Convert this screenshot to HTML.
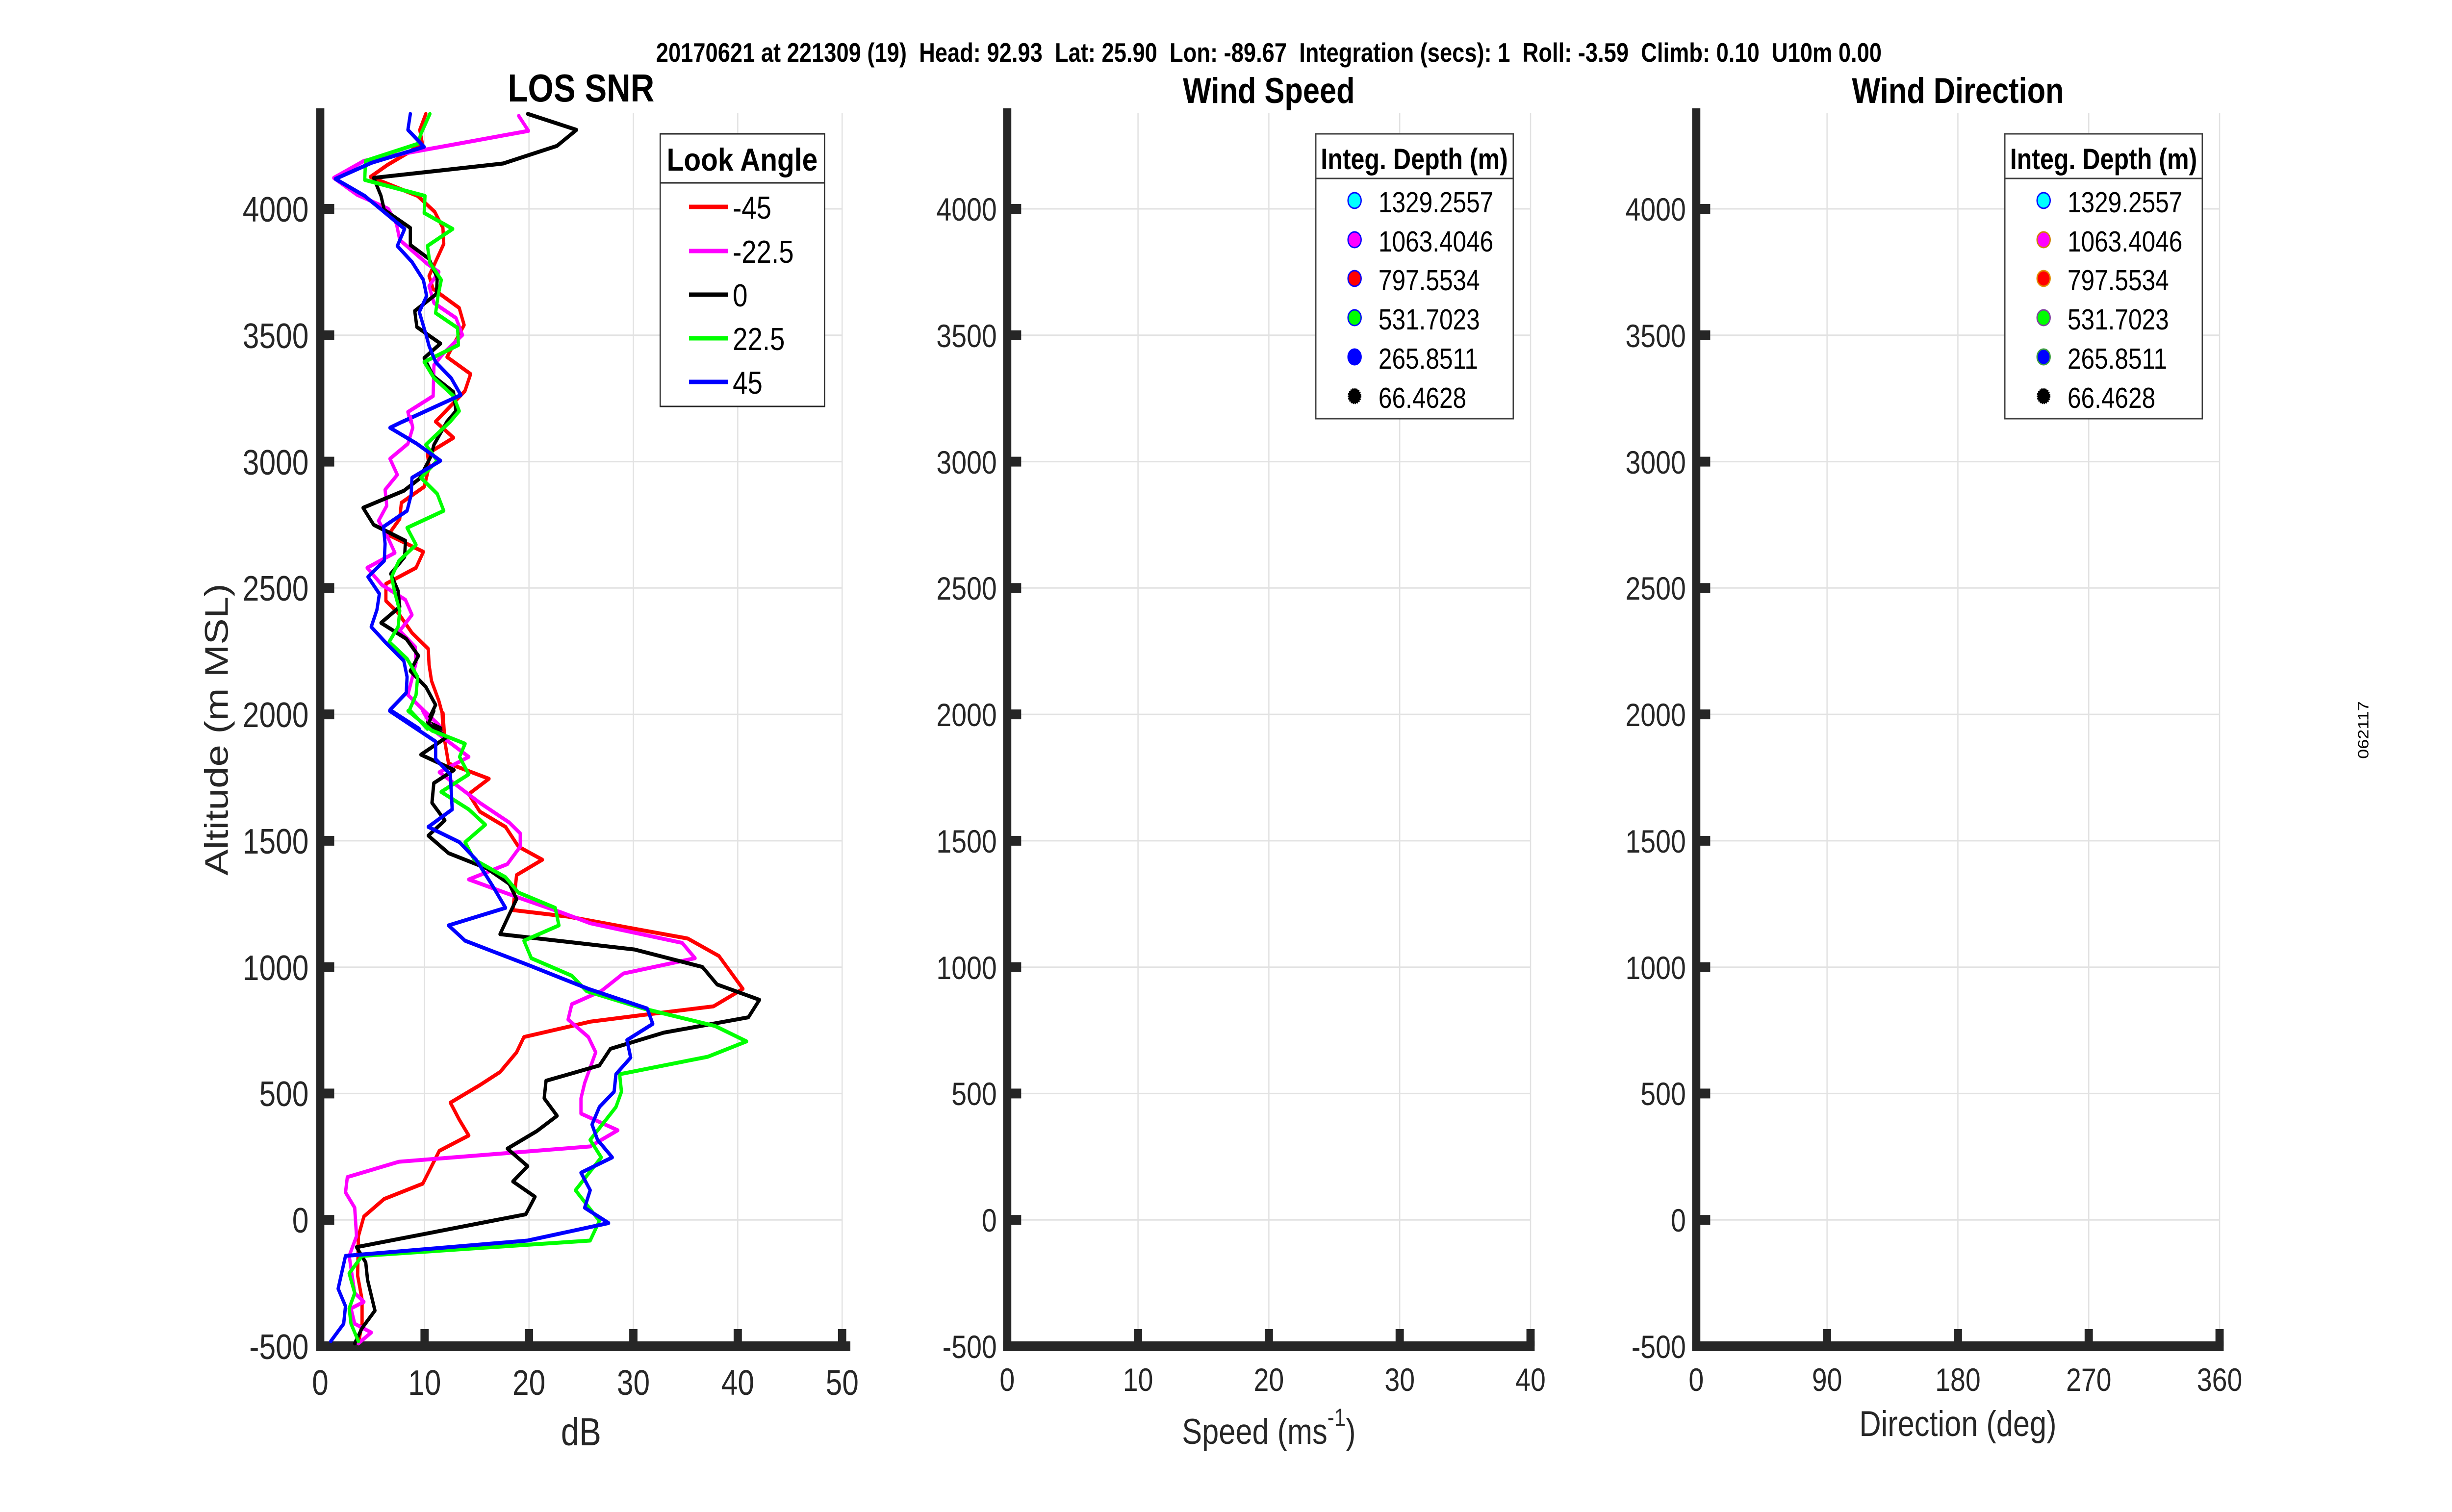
<!DOCTYPE html>
<html><head><meta charset="utf-8"><style>
html,body{margin:0;padding:0;background:#fff;width:100%;height:100%;overflow:hidden;}
svg{display:block;width:100vw;height:100vh;}
text{font-family:"Liberation Sans",Arial,sans-serif;}
</style></head><body>
<svg viewBox="0 0 5950 3084" preserveAspectRatio="none" xmlns="http://www.w3.org/2000/svg">
<rect width="5950" height="3084" fill="#fff"/>

<!-- main title -->
<text x="3079" y="126" font-size="55" font-weight="bold" text-anchor="middle" textLength="2974" lengthAdjust="spacingAndGlyphs" fill="#000" style="white-space:pre" xml:space="preserve">20170621 at 221309 (19)  Head: 92.93  Lat: 25.90  Lon: -89.67  Integration (secs): 1  Roll: -3.59  Climb: 0.10  U10m 0.00</text>

<!-- subplot titles -->
<text x="1410" y="207" font-size="80" font-weight="bold" text-anchor="middle" fill="#000">LOS SNR</text>
<text x="3079" y="210" font-size="73" font-weight="bold" text-anchor="middle" fill="#000">Wind Speed</text>
<text x="4751" y="210" font-size="73" font-weight="bold" text-anchor="middle" fill="#000">Wind Direction</text>

<!-- grids -->
<g stroke="#e2e2e2" stroke-width="3">
  <line x1="777" y1="2488.2" x2="2043.5" y2="2488.2"/>
  <line x1="777" y1="2230.4" x2="2043.5" y2="2230.4"/>
  <line x1="777" y1="1972.7" x2="2043.5" y2="1972.7"/>
  <line x1="777" y1="1714.9" x2="2043.5" y2="1714.9"/>
  <line x1="777" y1="1457.1" x2="2043.5" y2="1457.1"/>
  <line x1="777" y1="1199.3" x2="2043.5" y2="1199.3"/>
  <line x1="777" y1="941.6" x2="2043.5" y2="941.6"/>
  <line x1="777" y1="683.8" x2="2043.5" y2="683.8"/>
  <line x1="777" y1="426" x2="2043.5" y2="426"/>
  <line x1="1030.3" y1="231" x2="1030.3" y2="2746"/>
  <line x1="1283.6" y1="231" x2="1283.6" y2="2746"/>
  <line x1="1536.9" y1="231" x2="1536.9" y2="2746"/>
  <line x1="1790.2" y1="231" x2="1790.2" y2="2746"/>
  <line x1="2043.5" y1="231" x2="2043.5" y2="2746"/>
  <line x1="2444" y1="2488.2" x2="3714" y2="2488.2"/>
  <line x1="2444" y1="2230.4" x2="3714" y2="2230.4"/>
  <line x1="2444" y1="1972.7" x2="3714" y2="1972.7"/>
  <line x1="2444" y1="1714.9" x2="3714" y2="1714.9"/>
  <line x1="2444" y1="1457.1" x2="3714" y2="1457.1"/>
  <line x1="2444" y1="1199.3" x2="3714" y2="1199.3"/>
  <line x1="2444" y1="941.6" x2="3714" y2="941.6"/>
  <line x1="2444" y1="683.8" x2="3714" y2="683.8"/>
  <line x1="2444" y1="426" x2="3714" y2="426"/>
  <line x1="2761.5" y1="231" x2="2761.5" y2="2746"/>
  <line x1="3079" y1="231" x2="3079" y2="2746"/>
  <line x1="3396.5" y1="231" x2="3396.5" y2="2746"/>
  <line x1="3714" y1="231" x2="3714" y2="2746"/>
  <line x1="4116" y1="2488.2" x2="5386" y2="2488.2"/>
  <line x1="4116" y1="2230.4" x2="5386" y2="2230.4"/>
  <line x1="4116" y1="1972.7" x2="5386" y2="1972.7"/>
  <line x1="4116" y1="1714.9" x2="5386" y2="1714.9"/>
  <line x1="4116" y1="1457.1" x2="5386" y2="1457.1"/>
  <line x1="4116" y1="1199.3" x2="5386" y2="1199.3"/>
  <line x1="4116" y1="941.6" x2="5386" y2="941.6"/>
  <line x1="4116" y1="683.8" x2="5386" y2="683.8"/>
  <line x1="4116" y1="426" x2="5386" y2="426"/>
  <line x1="4433.5" y1="231" x2="4433.5" y2="2746"/>
  <line x1="4751" y1="231" x2="4751" y2="2746"/>
  <line x1="5068.5" y1="231" x2="5068.5" y2="2746"/>
  <line x1="5386" y1="231" x2="5386" y2="2746"/>
</g>

<!-- axes lines and ticks -->
<g fill="#262626">
  <rect x="767" y="221" width="20" height="2535"/>
  <rect x="767" y="2736" width="1296.5" height="20"/>
  <rect x="777" y="2478.2" width="34" height="20"/>
  <rect x="777" y="2220.4" width="34" height="20"/>
  <rect x="777" y="1962.7" width="34" height="20"/>
  <rect x="777" y="1704.9" width="34" height="20"/>
  <rect x="777" y="1447.1" width="34" height="20"/>
  <rect x="777" y="1189.3" width="34" height="20"/>
  <rect x="777" y="931.6" width="34" height="20"/>
  <rect x="777" y="673.8" width="34" height="20"/>
  <rect x="777" y="416" width="34" height="20"/>
  <rect x="1020.3" y="2711" width="20" height="35"/>
  <rect x="1273.6" y="2711" width="20" height="35"/>
  <rect x="1526.9" y="2711" width="20" height="35"/>
  <rect x="1780.2" y="2711" width="20" height="35"/>
  <rect x="2033.5" y="2711" width="20" height="35"/>
  <rect x="2434" y="221" width="20" height="2535"/>
  <rect x="2434" y="2736" width="1290" height="20"/>
  <rect x="2444" y="2478.2" width="34" height="20"/>
  <rect x="2444" y="2220.4" width="34" height="20"/>
  <rect x="2444" y="1962.7" width="34" height="20"/>
  <rect x="2444" y="1704.9" width="34" height="20"/>
  <rect x="2444" y="1447.1" width="34" height="20"/>
  <rect x="2444" y="1189.3" width="34" height="20"/>
  <rect x="2444" y="931.6" width="34" height="20"/>
  <rect x="2444" y="673.8" width="34" height="20"/>
  <rect x="2444" y="416" width="34" height="20"/>
  <rect x="2751.5" y="2711" width="20" height="35"/>
  <rect x="3069" y="2711" width="20" height="35"/>
  <rect x="3386.5" y="2711" width="20" height="35"/>
  <rect x="3704" y="2711" width="20" height="35"/>
  <rect x="4106" y="221" width="20" height="2535"/>
  <rect x="4106" y="2736" width="1290" height="20"/>
  <rect x="4116" y="2478.2" width="34" height="20"/>
  <rect x="4116" y="2220.4" width="34" height="20"/>
  <rect x="4116" y="1962.7" width="34" height="20"/>
  <rect x="4116" y="1704.9" width="34" height="20"/>
  <rect x="4116" y="1447.1" width="34" height="20"/>
  <rect x="4116" y="1189.3" width="34" height="20"/>
  <rect x="4116" y="931.6" width="34" height="20"/>
  <rect x="4116" y="673.8" width="34" height="20"/>
  <rect x="4116" y="416" width="34" height="20"/>
  <rect x="4423.5" y="2711" width="20" height="35"/>
  <rect x="4741" y="2711" width="20" height="35"/>
  <rect x="5058.5" y="2711" width="20" height="35"/>
  <rect x="5376" y="2711" width="20" height="35"/>
</g>

<!-- tick labels -->
<g fill="#262626" font-size="72" text-anchor="end">
  <text x="749" y="2772">-500</text>
  <text x="749" y="2514">0</text>
  <text x="749" y="2256">500</text>
  <text x="749" y="1999">1000</text>
  <text x="749" y="1741">1500</text>
  <text x="749" y="1483">2000</text>
  <text x="749" y="1225">2500</text>
  <text x="749" y="968">3000</text>
  <text x="749" y="710">3500</text>
  <text x="749" y="452">4000</text>
</g>
<g fill="#262626" font-size="72" text-anchor="middle">
  <text x="777" y="2845">0</text>
  <text x="1030.3" y="2845">10</text>
  <text x="1283.6" y="2845">20</text>
  <text x="1536.9" y="2845">30</text>
  <text x="1790.2" y="2845">40</text>
  <text x="2043.5" y="2845">50</text>
</g>
<g fill="#262626" font-size="66" text-anchor="end">
  <text x="2419" y="2770">-500</text>
  <text x="2419" y="2512">0</text>
  <text x="2419" y="2254">500</text>
  <text x="2419" y="1997">1000</text>
  <text x="2419" y="1739">1500</text>
  <text x="2419" y="1481">2000</text>
  <text x="2419" y="1223">2500</text>
  <text x="2419" y="966">3000</text>
  <text x="2419" y="708">3500</text>
  <text x="2419" y="450">4000</text>
  <text x="4091" y="2770">-500</text>
  <text x="4091" y="2512">0</text>
  <text x="4091" y="2254">500</text>
  <text x="4091" y="1997">1000</text>
  <text x="4091" y="1739">1500</text>
  <text x="4091" y="1481">2000</text>
  <text x="4091" y="1223">2500</text>
  <text x="4091" y="966">3000</text>
  <text x="4091" y="708">3500</text>
  <text x="4091" y="450">4000</text>
</g>
<g fill="#262626" font-size="66" text-anchor="middle">
  <text x="2444" y="2837">0</text>
  <text x="2761.5" y="2837">10</text>
  <text x="3079" y="2837">20</text>
  <text x="3396.5" y="2837">30</text>
  <text x="3714" y="2837">40</text>
  <text x="4116" y="2837">0</text>
  <text x="4433.5" y="2837">90</text>
  <text x="4751" y="2837">180</text>
  <text x="5068.5" y="2837">270</text>
  <text x="5386" y="2837">360</text>
</g>

<!-- axis labels -->
<text x="1410" y="2948" font-size="80" text-anchor="middle" fill="#262626">dB</text>
<text x="3079" y="2945" font-size="73" text-anchor="middle" fill="#262626">Speed (ms<tspan font-size="50" dy="-37">-1</tspan><tspan dy="37">)</tspan></text>
<text x="4751" y="2929" font-size="73" text-anchor="middle" fill="#262626">Direction (deg)</text>
<text transform="translate(553,1488) rotate(-90)" x="0" y="0" font-size="80" text-anchor="middle" fill="#262626">Altitude (m MSL)</text>

<text transform="translate(5747,1489) rotate(-90)" x="0" y="0" font-size="36" text-anchor="middle" fill="#000">062117</text>

<!-- data -->
<g fill="none" stroke-linejoin="round" stroke-linecap="round">
<g transform="translate(800,220) scale(0.39541,0.40816)" stroke-width="20">
  <polyline stroke="#ff0000" points="590,30 553,110 568,175 480,225 355,285 250,345 540,440 645,520 695,600 700,680 610,840 635,905 795,1000 825,1085 720,1245 865,1330 830,1415 650,1568"/>
  <polyline stroke="#ff00ff" points="1160,40 1220,115 210,265 25,350 170,435 240,460 360,505 410,580 430,660 600,780 670,820 610,890 640,975 775,1050 815,1135 700,1225 640,1285 635,1440 480,1520 495,1568"/>
  <polyline stroke="#000000" points="1215,30 1515,110 1395,190 1065,278 270,350 290,390 315,440 335,510 495,600 495,685 610,755 660,850 655,930 522,1015 535,1095 680,1178 580,1250 635,1340 760,1420 775,1515 720,1568"/>
  <polyline stroke="#00ff00" points="615,30 560,130 540,180 220,265 215,360 585,440 580,525 755,605 600,690 615,775 685,860 665,940 650,1025 785,1100 790,1185 580,1270 640,1350 760,1440 795,1515 740,1568"/>
  <polyline stroke="#0000ff" points="495,30 480,110 580,195 255,275 35,355 215,440 460,605 415,690 505,770 575,860 595,940 550,1020 590,1130 610,1190 650,1270 745,1350 805,1435 448,1568"/>
</g>
<g transform="translate(800,850) scale(0.39541,0.40816)" stroke-width="20">
  <polyline stroke="#ff0000" points="650,24 760,105 600,185 610,250 580,350 440,430 430,510 360,590 575,675 530,755 345,835 345,920 420,980 505,1080 605,1160 610,1240 625,1320 670,1420 690,1480 695,1568"/>
  <polyline stroke="#ff00ff" points="495,0 510,55 480,135 370,210 415,290 340,365 350,445 300,520 355,600 400,680 230,755 320,840 465,915 505,990 430,1070 525,1150 530,1230 480,1390 580,1470 670,1540 690,1568"/>
  <polyline stroke="#000000" points="720,24 640,140 620,200 550,310 455,370 205,455 270,540 465,620 460,700 375,785 420,870 430,950 315,1030 470,1110 545,1195 495,1270 590,1350 650,1440 600,1525 690,1560"/>
  <polyline stroke="#00ff00" points="740,24 590,140 660,220 560,305 660,385 700,470 475,555 530,640 425,720 380,800 400,880 430,970 420,1050 365,1125 475,1210 540,1300 530,1390 490,1465 600,1560"/>
  <polyline stroke="#0000ff" points="448,24 370,55 535,135 680,220 505,305 500,390 475,470 330,550 340,635 335,720 235,800 305,885 290,965 255,1050 345,1130 455,1220 475,1300 470,1380 370,1465 550,1560"/>
</g>
<g transform="translate(700,1450) scale(0.89286)" stroke-width="9">
  <polyline stroke="#ff0000" points="420,5 425,70 435,120 545,155 490,190 520,230 590,265 625,310 690,340 620,375 610,455 760,470 1085,520 1170,560 1235,635 1155,675 960,695 820,710 640,745 620,780 575,825 520,855 440,895 465,935 490,970 410,1005 365,1080 260,1115 205,1155 190,1200 188,1290 200,1345 200,1400 190,1445"/>
  <polyline stroke="#ff00ff" points="365,0 395,45 490,105 410,140 520,210 600,255 630,280 630,310 595,350 490,385 620,425 740,460 820,485 1070,530 1105,565 910,600 850,640 770,670 760,705 815,745 835,780 805,850 795,885 795,920 895,958 820,995 300,1030 160,1065 155,1100 180,1135 185,1200 165,1245 180,1330 205,1350 170,1365 180,1400 225,1420 190,1445"/>
  <polyline stroke="#000000" points="395,0 380,30 430,60 360,100 450,135 395,165 390,210 425,250 380,285 435,325 540,360 600,395 620,430 600,465 575,510 940,545 1125,585 1165,625 1280,660 1250,700 1020,735 875,772 845,810 700,845 695,885 730,925 675,960 595,1000 650,1040 610,1075 670,1110 645,1150 185,1225 210,1260 215,1300 235,1370 200,1410 180,1445"/>
  <polyline stroke="#00ff00" points="325,0 390,45 480,75 465,105 490,145 415,185 490,225 535,260 480,300 505,340 590,380 625,415 725,450 735,490 640,525 660,565 770,605 810,640 965,680 1160,720 1245,755 1140,790 900,830 905,870 890,905 820,980 850,1020 780,1095 845,1165 820,1210 200,1245 165,1285 180,1330 165,1365 170,1400 190,1440"/>
  <polyline stroke="#0000ff" points="275,0 400,70 400,110 440,145 445,225 380,265 465,300 510,340 555,400 590,450 435,490 480,525 650,580 815,635 975,680 990,715 920,752 930,792 890,830 885,870 845,905 825,945 840,980 880,1020 795,1055 820,1095 805,1135 870,1170 650,1210 155,1245 135,1320 155,1360 150,1400 115,1440"/>
</g>
</g>

<!-- left legend -->
<rect x="1602" y="273" width="399" height="556" fill="#fff" stroke="#262626" stroke-width="3"/>
<line x1="1602" y1="373" x2="2001" y2="373" stroke="#262626" stroke-width="3"/>
<text x="1801" y="348" font-size="65" font-weight="bold" text-anchor="middle" textLength="366" lengthAdjust="spacingAndGlyphs" fill="#000">Look Angle</text>
<g stroke-width="9">
  <line x1="1672" y1="422" x2="1766" y2="422" stroke="#ff0000"/>
  <line x1="1672" y1="512" x2="1766" y2="512" stroke="#ff00ff"/>
  <line x1="1672" y1="601" x2="1766" y2="601" stroke="#000000"/>
  <line x1="1672" y1="690" x2="1766" y2="690" stroke="#00ff00"/>
  <line x1="1672" y1="779" x2="1766" y2="779" stroke="#0000ff"/>
</g>
<g font-size="65" fill="#000">
  <text x="1778" y="446">-45</text>
  <text x="1778" y="536">-22.5</text>
  <text x="1778" y="625">0</text>
  <text x="1778" y="714">22.5</text>
  <text x="1778" y="803">45</text>
</g>

<!-- middle legend -->
<rect x="3193" y="273" width="479" height="581" fill="#fff" stroke="#404040" stroke-width="3"/>
<line x1="3193" y1="364" x2="3672" y2="364" stroke="#404040" stroke-width="3"/>
<text x="3432" y="345" font-size="60" font-weight="bold" text-anchor="middle" textLength="454" lengthAdjust="spacingAndGlyphs" fill="#000">Integ. Depth (m)</text>
<g stroke-width="3">
  <circle cx="3287" cy="409" r="16" fill="#00ffff" stroke="#0000ff"/>
  <circle cx="3287" cy="489" r="16" fill="#ff00ff" stroke="#0000ff"/>
  <circle cx="3287" cy="568" r="16" fill="#ff0000" stroke="#0000ff"/>
  <circle cx="3287" cy="648" r="16" fill="#00ff00" stroke="#0000ff"/>
  <circle cx="3287" cy="728" r="16" fill="#0000ff" stroke="#0000ff"/>
  <circle cx="3287" cy="808" r="15" fill="#000" stroke="#000" stroke-dasharray="3 2"/>
</g>
<g font-size="59" fill="#000">
  <text x="3345" y="433">1329.2557</text>
  <text x="3345" y="513">1063.4046</text>
  <text x="3345" y="592">797.5534</text>
  <text x="3345" y="672">531.7023</text>
  <text x="3345" y="752">265.8511</text>
  <text x="3345" y="832">66.4628</text>
</g>

<!-- right legend -->
<rect x="4865" y="273" width="479" height="581" fill="#fff" stroke="#404040" stroke-width="3"/>
<line x1="4865" y1="364" x2="5344" y2="364" stroke="#404040" stroke-width="3"/>
<text x="5104.5" y="345" font-size="60" font-weight="bold" text-anchor="middle" textLength="454" lengthAdjust="spacingAndGlyphs" fill="#000">Integ. Depth (m)</text>
<g stroke-width="3">
  <circle cx="4959" cy="409" r="16" fill="#00ffff" stroke="#0000ff"/>
  <circle cx="4959" cy="489" r="16" fill="#ff00ff" stroke="#d08000"/>
  <circle cx="4959" cy="568" r="16" fill="#ff0000" stroke="#e09000"/>
  <circle cx="4959" cy="648" r="16" fill="#00ff00" stroke="#8040a0"/>
  <circle cx="4959" cy="728" r="16" fill="#0000ff" stroke="#40a040"/>
  <circle cx="4959" cy="808" r="15" fill="#000" stroke="#000" stroke-dasharray="3 2"/>
</g>
<g font-size="59" fill="#000">
  <text x="5017" y="433">1329.2557</text>
  <text x="5017" y="513">1063.4046</text>
  <text x="5017" y="592">797.5534</text>
  <text x="5017" y="672">531.7023</text>
  <text x="5017" y="752">265.8511</text>
  <text x="5017" y="832">66.4628</text>
</g>
</svg>
</body></html>
